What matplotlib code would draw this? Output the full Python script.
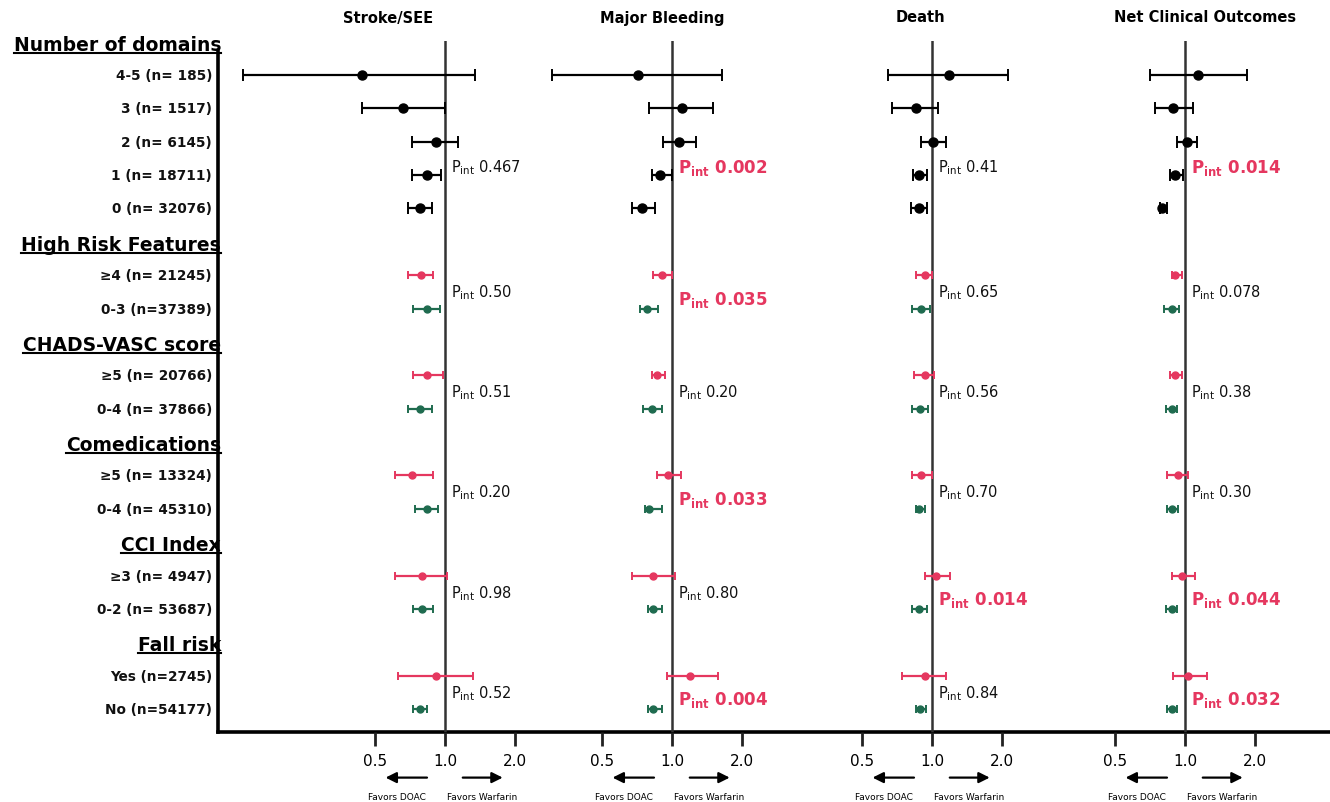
import matplotlib
matplotlib.use("Agg")
import matplotlib.pyplot as plt
from matplotlib.ticker import NullLocator
from matplotlib.transforms import blended_transform_factory
from matplotlib.lines import Line2D

# ---------------- data ----------------
outcomes = ["Stroke/SEE", "Major Bleeding", "Death", "Net Clinical Outcomes"]
group_names = ["Number of domains", "High Risk Features", "CHADS-VASC score",
               "Comedications", "CCI Index", "Fall risk"]
group_rows = [
    ["4-5 (n= 185)", "3 (n= 1517)", "2 (n= 6145)", "1 (n= 18711)", "0 (n= 32076)"],
    ["≥4 (n= 21245)", "0-3 (n=37389)"],
    ["≥5 (n= 20766)", "0-4 (n= 37866)"],
    ["≥5 (n= 13324)", "0-4 (n= 45310)"],
    ["≥3 (n= 4947)", "0-2 (n= 53687)"],
    ["Yes (n=2745)", "No (n=54177)"],
]

stroke_est = [0.44, 0.66, 0.915, 0.84, 0.78, 0.79, 0.84, 0.84, 0.78, 0.72, 0.84, 0.80, 0.80, 0.915, 0.78]
stroke_lo  = [0.135, 0.44, 0.72, 0.72, 0.69, 0.69, 0.73, 0.73, 0.69, 0.61, 0.74, 0.61, 0.73, 0.63, 0.73]
stroke_hi  = [1.35, 1.0, 1.14, 0.96, 0.88, 0.89, 0.95, 0.98, 0.88, 0.89, 0.93, 1.02, 0.89, 1.32, 0.84]

bleed_est = [0.714, 1.10, 1.07, 0.89, 0.74, 0.905, 0.78, 0.86, 0.82, 0.96, 0.80, 0.83, 0.83, 1.195, 0.83]
bleed_lo  = [0.305, 0.80, 0.915, 0.82, 0.67, 0.83, 0.73, 0.82, 0.75, 0.86, 0.765, 0.67, 0.79, 0.95, 0.79]
bleed_hi  = [1.64, 1.50, 1.27, 1.0, 0.845, 1.0, 0.87, 0.93, 0.91, 1.09, 0.905, 1.03, 0.905, 1.58, 0.905]

death_est = [1.18, 0.85, 1.01, 0.88, 0.88, 0.93, 0.90, 0.93, 0.89, 0.90, 0.88, 1.04, 0.88, 0.93, 0.89]
death_lo  = [0.65, 0.67, 0.90, 0.83, 0.81, 0.85, 0.82, 0.84, 0.82, 0.82, 0.85, 0.93, 0.82, 0.74, 0.85]
death_hi  = [2.12, 1.06, 1.15, 0.95, 0.95, 1.0, 0.98, 1.02, 0.96, 1.0, 0.93, 1.19, 0.95, 1.15, 0.94]

nco_est = [1.14, 0.89, 1.02, 0.905, 0.80, 0.91, 0.88, 0.905, 0.88, 0.93, 0.88, 0.97, 0.88, 1.03, 0.88]
nco_lo  = [0.71, 0.74, 0.92, 0.86, 0.78, 0.88, 0.81, 0.86, 0.83, 0.84, 0.84, 0.88, 0.83, 0.89, 0.84]
nco_hi  = [1.85, 1.08, 1.13, 0.98, 0.84, 0.97, 0.94, 0.97, 0.92, 1.03, 0.93, 1.10, 0.92, 1.24, 0.92]

stroke_p = ["0.467", "0.50", "0.51", "0.20", "0.98", "0.52"]
bleed_p  = ["0.002", "0.035", "0.20", "0.033", "0.80", "0.004"]
death_p  = ["0.41", "0.65", "0.56", "0.70", "0.014", "0.84"]
nco_p    = ["0.014", "0.078", "0.38", "0.30", "0.044", "0.032"]

tick_values = [0.5, 1.0, 2.0]
tick_labels = ["0.5", "1.0", "2.0"]

# ---------------- style / layout ----------------
W, H = 1330, 803
RED = "#e5375f"
GREEN = "#1f6b4f"
panel_refs_px = [445, 672, 932, 1185]
title_px = [388, 662, 920, 1205]
PX_PER_LOG2 = 70.0
Y0_PX, SLOT_PX = 42.6, 33.37
AX_TOP_PX, AX_BOT_PX = 42, 733

fig = plt.figure(figsize=(W / 100, H / 100), dpi=100)
fig.patch.set_facecolor("white")

# frame axes (left + bottom lines)
frame = fig.add_axes([218 / W, 1 - AX_BOT_PX / H, (W - 218) / W, (AX_BOT_PX - 52) / H])
frame.patch.set_alpha(0)
for sp in ["top", "right"]:
    frame.spines[sp].set_visible(False)
for sp in ["left", "bottom"]:
    frame.spines[sp].set_linewidth(2.6)
frame.set_xticks([])
frame.set_yticks([])

# slot assignment
header_slots, row_slots = [], []
s = 0
for rows in group_rows:
    header_slots.append(s)
    row_slots.append([s + 1 + k for k in range(len(rows))])
    s += 1 + len(rows)
flat_slots = [v for g in row_slots for v in g]
flat_colors = []
for gi, rows in enumerate(group_rows):
    for k in range(len(rows)):
        if gi == 0:
            flat_colors.append("black")
        else:
            flat_colors.append(RED if k == 0 else GREEN)

ylim = ((AX_BOT_PX - Y0_PX) / SLOT_PX, (AX_TOP_PX - Y0_PX) / SLOT_PX)

series = [
    (stroke_est, stroke_lo, stroke_hi, stroke_p),
    (bleed_est, bleed_lo, bleed_hi, bleed_p),
    (death_est, death_lo, death_hi, death_p),
    (nco_est, nco_lo, nco_hi, nco_p),
]

axes = []
for i, (est, lo, hi, pv) in enumerate(series):
    ref = panel_refs_px[i]
    left_px, right_px = ref - 225, ref + 125
    ax = fig.add_axes([left_px / W, 1 - AX_BOT_PX / H, (right_px - left_px) / W,
                       (AX_BOT_PX - AX_TOP_PX) / H])
    ax.patch.set_alpha(0)
    ax.set_xscale("log")
    ax.set_xlim(2 ** (-225 / PX_PER_LOG2), 2 ** (125 / PX_PER_LOG2))
    ax.set_ylim(*ylim)
    for sp in ax.spines.values():
        sp.set_visible(False)
    ax.set_yticks([])
    ax.xaxis.set_minor_locator(NullLocator())
    ax.set_xticks(tick_values)
    ax.set_xticklabels(tick_labels)
    ax.tick_params(axis="x", direction="out", length=10, width=2, pad=5,
                   labelsize=11, color="#222222")
    ax.axvline(1.0, color="#333333", lw=1.8, zorder=1)

    for j, (e, l, h, y, c) in enumerate(zip(est, lo, hi, flat_slots, flat_colors)):
        big = c == "black"
        ax.errorbar([e], [y], xerr=[[e - l], [h - e]], fmt="o", color=c,
                    ms=6.5 if big else 5, capsize=4 if big else 3,
                    elinewidth=1.6, capthick=1.4, zorder=3)

    # interaction p-values
    for gi, p in enumerate(pv):
        sig = float(p) < 0.05
        slots = row_slots[gi]
        if gi == 0:
            yp = slots[3] - 0.25
        else:
            yp = (slots[0] + slots[1]) / 2 + (0.2 if sig else 0.0)
        if sig:
            ax.text(1.06, yp, r"P$_{\bf int}$ " + p, color=RED, fontsize=12,
                    fontweight="bold", ha="left", va="center")
        else:
            ax.text(1.06, yp, r"P$_{\rm int}$ " + p, color="#111111", fontsize=10.5,
                    ha="left", va="center")

    # favors arrows
    ax.annotate("", xy=(0.54, -0.066), xytext=(0.86, -0.066),
                xycoords=("data", "axes fraction"), textcoords=("data", "axes fraction"),
                arrowprops=dict(arrowstyle="-|>", color="black", lw=1.6, mutation_scale=16),
                annotation_clip=False)
    ax.annotate("", xy=(1.82, -0.066), xytext=(1.16, -0.066),
                xycoords=("data", "axes fraction"), textcoords=("data", "axes fraction"),
                arrowprops=dict(arrowstyle="-|>", color="black", lw=1.6, mutation_scale=16),
                annotation_clip=False)
    ax.text(0.62, -0.093, "Favors DOAC", fontsize=6.5, ha="center", va="center",
            transform=ax.get_xaxis_transform())
    ax.text(1.45, -0.093, "Favors Warfarin", fontsize=6.5, ha="center", va="center",
            transform=ax.get_xaxis_transform())

    fig.text(title_px[i] / W, 1 - 18 / H, outcomes[i], fontsize=10.5, fontweight="bold",
             ha="center", va="center")
    axes.append(ax)

# row labels / headers
tr = blended_transform_factory(fig.transFigure, axes[0].transData)
header_texts = []
for gi, rows in enumerate(group_rows):
    t = fig.text(221 / W, header_slots[gi] + 0.08, group_names[gi], transform=tr,
                 fontsize=13.5, fontweight="bold", ha="right", va="center")
    header_texts.append(t)
    for k, lab in enumerate(rows):
        fig.text(212 / W, row_slots[gi][k], lab, transform=tr, fontsize=9.8,
                 fontweight="bold", ha="right", va="center", color="#111111")

fig.canvas.draw()
renderer = fig.canvas.get_renderer()
inv = fig.transFigure.inverted()
for t in header_texts:
    bb = t.get_window_extent(renderer)
    (x0, y0), (x1, _) = inv.transform([(bb.x0, bb.y0 + 1), (bb.x1, bb.y0 + 1)])
    fig.add_artist(Line2D([x0, x1], [y0, y0], transform=fig.transFigure,
                          color="black", lw=1.5))

fig.savefig("out.png", dpi=100, facecolor="white")
